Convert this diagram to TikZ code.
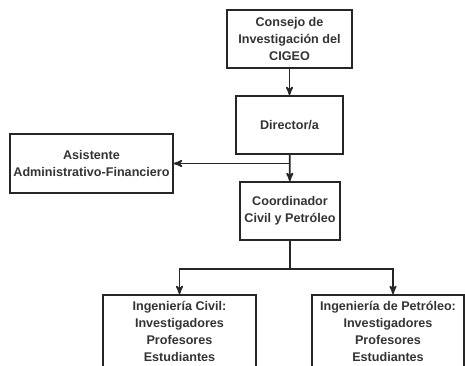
\documentclass[tikz,border=0pt]{standalone}
\usepackage{fontspec}
\setmainfont{Liberation Sans}
\usetikzlibrary{calc}
\usetikzlibrary{arrows}

\tikzset{
  caja/.style={draw=black!85, line width=1.8pt, align=center, inner sep=2pt,
    text=black!80, font=\fontsize{12.6}{17}\selectfont\bfseries},
  conector/.style={black!85, line width=1.8pt, >=stealth'}
}

\begin{document}
\begin{tikzpicture}[x=1pt,y=-1pt]
\useasboundingbox (0,0) rectangle (465,366);
% cajas
\node[caja, minimum width=125pt, minimum height=58pt] (consejo) at (289.5,39) {Consejo de\\Investigación del\\CIGEO};
\node[caja, minimum width=107pt, minimum height=58pt] (director) at (289.5,125) {Director/a};
\node[caja, minimum width=163pt, minimum height=59pt] (asistente) at (91.5,163.5) {Asistente\\Administrativo-Financiero};
\node[caja, minimum width=100pt, minimum height=58pt] (coord) at (290,211) {Coordinador\\Civil y Petróleo};
\node[caja, minimum width=153pt, minimum height=72pt] (civil) at (179.5,331) {Ingeniería Civil:\\Investigadores\\Profesores\\Estudiantes};
\node[caja, minimum width=152pt, minimum height=72pt] (petro) at (388,331) {Ingeniería de Petróleo:\\Investigadores\\Profesores\\Estudiantes};
% conectores
\coordinate (rama) at (director.south |- asistente.east);
\coordinate (reparto) at ($(coord.south)+(0,28)$);
\draw[conector, ->] (consejo) -- (director);
\draw[conector, ->] (director) -- (coord);
\draw[conector, ->] (rama) -- (asistente.east);
\draw[conector] (coord) -- (reparto);
\draw[conector, ->] (reparto) -| (civil.north);
\draw[conector, ->] (reparto) -| ($(petro.north)+(5,0)$);
\end{tikzpicture}
\end{document}
